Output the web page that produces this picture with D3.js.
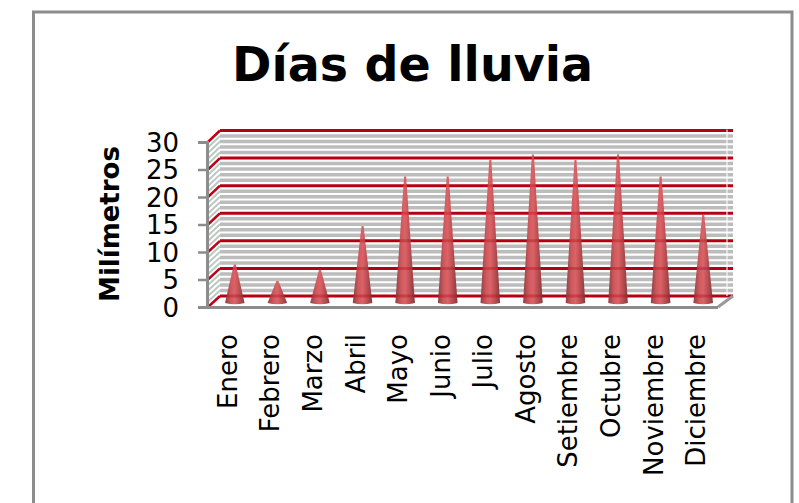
<!DOCTYPE html>
<html><head><meta charset="utf-8">
<style>html,body{margin:0;background:#fff}svg{display:block}text{font-family:"DejaVu Sans";fill:#000}</style>
<script src="https://cdn.jsdelivr.net/npm/d3@7"></script></head><body>
<svg id="c" width="799" height="503"></svg>
<script>
const months=["Enero","Febrero","Marzo","Abril","Mayo","Junio","Julio","Agosto","Setiembre","Octubre","Noviembre","Diciembre"];
const rainDays=[7,4,6,14,23,23,26,27,26,27,23,16];
const yTicks=[0,5,10,15,20,25,30];
const minorTicks=[1,2,3,4];
const titleText="Días de lluvia";
const yTitle="Milímetros";
const svg=d3.select("#c");
const H=503;
svg.append("rect").attr("x",33.5).attr("y",12).attr("width",758.5).attr("height",H).attr("fill","#fff").attr("stroke","#8c8c8c").attr("stroke-width",3);
const yFront=d3.scaleLinear().domain([0,30]).range([307,142]);
const yBack=d3.scaleLinear().domain([0,30]).range([296,130.5]);
const yCone=d3.scaleLinear().domain([0,30]).range([303,138]);
const x=d3.scaleBand().domain(months).range([213.5,724.5]);
const wallL=220,wallR=733,frontL=207,frontR=718;
const defs=svg.append("defs");
const g=defs.append("linearGradient").attr("id","cone");
[[0,"#8f3f42"],[.3,"#cf5a5e"],[.5,"#dc6367"],[.75,"#b84e52"],[1,"#843a3d"]].forEach(s=>g.append("stop").attr("offset",s[0]).attr("stop-color",s[1]));
const minors=[];
yTicks.slice(0,-1).forEach(t=>minorTicks.forEach(m=>minors.push(t+m)));
const stripe=svg.append("g");
minors.forEach(v=>{
  stripe.append("line").attr("x1",wallL).attr("x2",wallR).attr("y1",yBack(v)).attr("y2",yBack(v)).attr("stroke","#bcbcbc").attr("stroke-width",3.5);
  stripe.append("line").attr("x1",frontL+1).attr("x2",wallL).attr("y1",yFront(v)).attr("y2",yBack(v)).attr("stroke","#bcc8c2").attr("stroke-width",2);
});
const majorLine=(sel)=>yTicks.forEach(v=>{
  sel.append("line").attr("x1",wallL).attr("x2",wallR).attr("y1",yBack(v)).attr("y2",yBack(v)).attr("stroke","#b40012").attr("stroke-width",3);
});
majorLine(svg.append("g"));
yTicks.forEach(v=>{
  svg.append("line").attr("x1",frontL+1).attr("x2",wallL).attr("y1",yFront(v)).attr("y2",yBack(v)).attr("stroke","#c00018").attr("stroke-width",2.5);
});
svg.append("line").attr("x1",727).attr("x2",727).attr("y1",yBack(30)-1).attr("y2",yBack(0)).attr("stroke","#fff").attr("stroke-opacity",.7).attr("stroke-width",1.5);
svg.append("path").attr("d",d3.line()([[frontR,yFront(0)],[wallR,yBack(0)]])).attr("stroke","#999").attr("stroke-width",3).attr("fill","none");
svg.append("g").attr("transform",`translate(${frontL},0)`).call(d3.axisLeft(yFront).tickValues(yTicks).tickSize(9).tickPadding(19))
  .call(a=>{a.selectAll("line").attr("stroke","#8c8c8c").attr("stroke-width",2.5);a.select(".domain").attr("stroke","#8c8c8c").attr("stroke-width",3);a.selectAll("text").style("font-size","26px").style("font-family","DejaVu Sans").attr("fill","#000").attr("dy","0.36em")});
svg.append("line").attr("x1",frontL).attr("x2",frontR).attr("y1",yFront(0)+.5).attr("y2",yFront(0)+.5).attr("stroke","#8c8c8c").attr("stroke-width",3);
const half=x.bandwidth()*0.23;
svg.append("g").selectAll("path").data(rainDays).join("path")
 .attr("d",(d,i)=>{const c=x(months[i])+x.bandwidth()/2,b=yCone(0),t=yCone(d);
   return `M${c-half},${b}L${c-1},${t}L${c+1},${t}L${c+half},${b}Q${c},${b+2.5} ${c-half},${b}Z`;})
 .attr("fill","url(#cone)");
const over=svg.append("g").attr("opacity",.35);
majorLine(over);
over.attr("clip-path","url(#coneClip)");
const clip=defs.append("clipPath").attr("id","coneClip");
rainDays.forEach((d,i)=>{const c=x(months[i])+x.bandwidth()/2,b=yCone(0),t=yCone(d);
  clip.append("path").attr("d",`M${c-half},${b}L${c-1},${t}L${c+1},${t}L${c+half},${b}Z`);});
svg.append("g").selectAll("text").data(months).join("text")
 .attr("transform",d=>`translate(${x(d)+x.bandwidth()/2+2},334) rotate(-90)`)
 .attr("text-anchor","end").style("font-size","26px").text(d=>d);
svg.append("text").attr("x",412.5).attr("y",81).attr("text-anchor","middle").style("font-size","47.5px").style("font-weight","bold").text(titleText);
svg.append("text").attr("transform","translate(119,224) rotate(-90)").attr("text-anchor","middle").style("font-size","26px").style("font-weight","bold").text(yTitle);
</script></body></html>
